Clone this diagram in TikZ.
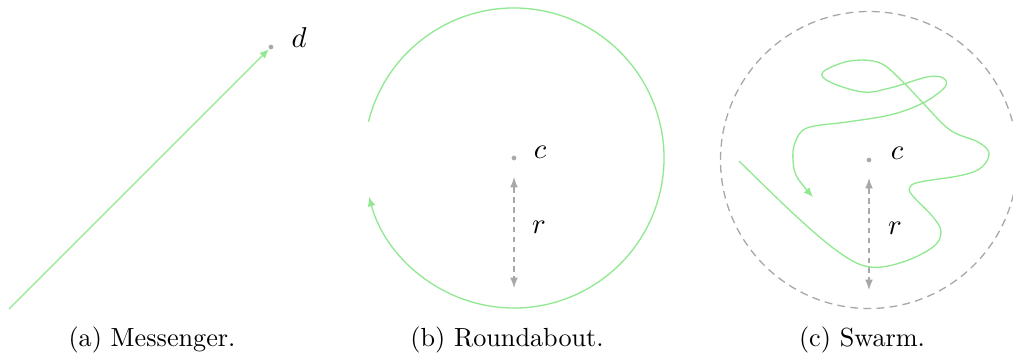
\documentclass[tikz,border=0pt]{standalone}
\usetikzlibrary{arrows.meta}
\definecolor{lgreen}{RGB}{144,232,144}
\definecolor{lgray}{RGB}{168,168,168}
\begin{document}
\begin{tikzpicture}[x=0.3817pt,y=0.3817pt,
  trail/.style={draw=lgreen, line width=0.5pt},
  arrowend/.style={-{Latex[length=3.6pt,width=3pt]}},
  dot/.style={circle, fill=lgray, inner sep=0pt, minimum size=1.8pt},
  radarrow/.style={draw=lgray, line width=0.5pt, dash pattern=on 2.2pt off 1.6pt,
    {Latex[length=4pt,width=3pt]}-{Latex[length=4pt,width=3pt]}},
  boundary/.style={draw=lgray, line width=0.5pt, dash pattern=on 3pt off 2pt},
  lbl/.style={inner sep=0pt, font=\fontsize{11}{13}\selectfont},
  captext/.style={inner sep=0pt}
]
\useasboundingbox (0,0) rectangle (1013,360);

% (a) Messenger
\coordinate (s) at (9,51);
\node[dot] (d) at (271,313) {};
\draw[trail, arrowend] (s) -- (d);
\node[lbl] (dl) at (299,322) {$d$};
\node[captext] (capa) at (152,20) {(a) Messenger.};

% (b) Roundabout
\node[dot] (cb) at (514,202) {};
\node[lbl] (cbl) at (540,208) {$c$};
\coordinate (arcstart) at ([shift={(166:150)}]cb.center);
\draw[trail, arrowend] (arcstart) arc[start angle=166, end angle=-165, radius=150];
\coordinate (rb1) at (514,183);
\coordinate (rb2) at (514,72);
\draw[radarrow] (rb1) -- (rb2);
\node[lbl] (rbl) at (539,133) {$r$};
\node[captext] (capb) at (507,20) {(b) Roundabout.};

% (c) Swarm
\node[dot] (cc) at (869,200) {};
\draw[boundary] (cc.center) circle[radius=148.5];
\node[lbl] (ccl) at (897,207) {$c$};
\coordinate (rc1) at (869,182);
\coordinate (rc2) at (869,70);
\draw[radarrow] (rc1) -- (rc2);
\node[lbl] (rcl) at (895,132) {$r$};
\draw[trail, arrowend] plot[smooth, tension=0.6] coordinates {
  (739,199) (797,143) (840,107) (870,93) (903,98) (933,113) (941,128)
  (933,143) (912,165) (910,173) (920,178) (963,185) (982,193) (989,207)
  (978,218) (950,230) (923,257) (903,278) (880,297) (850,299)
  (823,288) (830,278) (863,268) (890,272) (927,283) (943,282) (945,273)
  (923,257) (890,245) (847,238) (807,232) (795,217) (793,200) (797,183)
  (813,163)};
\node[captext] (capc) at (862,20) {(c) Swarm.};
\end{tikzpicture}
\end{document}
